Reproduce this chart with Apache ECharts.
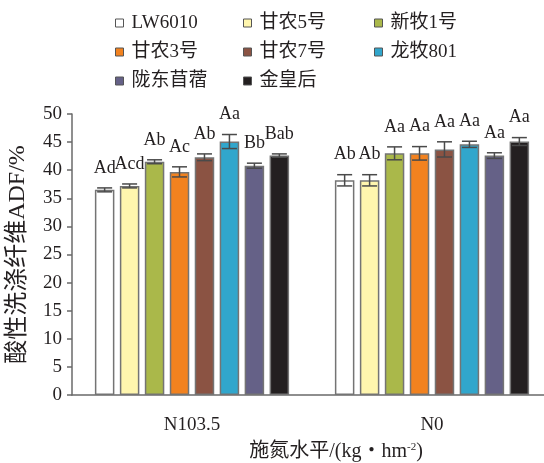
<!DOCTYPE html>
<html>
<head>
<meta charset="utf-8">
<script src="https://cdn.jsdelivr.net/npm/echarts@6/dist/echarts.min.js"></script>
<style>html,body{margin:0;padding:0;background:#fff}#c{width:544px;height:463px}</style>
</head>
<body>
<div id="c"></div>
<script>
var categories = ['N103.5', 'N0'];
var varieties = ['LW6010', '甘农5号', '新牧1号', '甘农3号', '甘农7号', '龙牧801', '陇东苜蓿', '金皇后'];
var colors = ['#ffffff', '#fff6ae', '#aab84a', '#f2821f', '#8b5343', '#31a6cc', '#656187', '#231f20'];
var valLW6010 = [36.5, 38.2];
var valGannong5 = [37.2, 38.2];
var valXinmu1 = [41.5, 43.0];
var valGannong3 = [39.7, 43.0];
var valGannong7 = [42.3, 43.7];
var valLongmu801 = [45.1, 44.6];
var valLongdong = [40.8, 42.6];
var valJinhuanghou = [42.6, 45.1];
var errLW6010 = [0.35, 1.0];
var errGannong5 = [0.35, 1.0];
var errXinmu1 = [0.35, 1.15];
var errGannong3 = [0.9, 1.2];
var errGannong7 = [0.6, 1.35];
var errLongmu801 = [1.25, 0.55];
var errLongdong = [0.45, 0.5];
var errJinhuanghou = [0.3, 0.7];
var lblLW6010 = ['Ad', 'Ab'];
var lblGannong5 = ['Acd', 'Ab'];
var lblXinmu1 = ['Ab', 'Aa'];
var lblGannong3 = ['Ac', 'Aa'];
var lblGannong7 = ['Ab', 'Aa'];
var lblLongmu801 = ['Aa', 'Aa'];
var lblLongdong = ['Bb', 'Aa'];
var lblJinhuanghou = ['Bab', 'Aa'];
var yTicks = [0, 5, 10, 15, 20, 25, 30, 35, 40, 45, 50];

var values = [valLW6010, valGannong5, valXinmu1, valGannong3, valGannong7, valLongmu801, valLongdong, valJinhuanghou];
var errors = [errLW6010, errGannong5, errXinmu1, errGannong3, errGannong7, errLongmu801, errLongdong, errJinhuanghou];
var letters = [lblLW6010, lblGannong5, lblXinmu1, lblGannong3, lblGannong7, lblLongmu801, lblLongdong, lblJinhuanghou];

var FONT = "'Liberation Serif', 'Noto Sans CJK SC', serif";
var BAR_W = 19.5, BAR_GAP = 0.28;
var PITCH = BAR_W * (1 + BAR_GAP);

var series = [];
varieties.forEach(function (name, i) {
  series.push({
    name: name, type: 'bar', data: values[i],
    barWidth: BAR_W, barGap: (BAR_GAP * 100) + '%',
    itemStyle: { color: colors[i], borderColor: '#747474', borderWidth: 1.5 },
    z: 2
  });
});
var errData = [];
varieties.forEach(function (name, i) {
  categories.forEach(function (c, j) {
    errData.push([j, i, values[i][j], errors[i][j], letters[i][j]]);
  });
});
series.push({
  type: 'custom', z: 5,
  data: errData,
  encode: { x: 0, y: 2 },
  renderItem: function (params, api) {
    var cat = api.value(0), vi = api.value(1), v = api.value(2), e = api.value(3);
    var lbl = errData[params.dataIndex][4];
    var cx = api.coord([cat, v])[0] + (vi - 3.5) * PITCH;
    var yHi = api.coord([cat, v + e])[1];
    var yLo = api.coord([cat, v - e])[1];
    var cap = 7.5;
    var st = { stroke: '#4a4a4a', lineWidth: 1.5 };
    return {
      type: 'group',
      children: [
        { type: 'line', shape: { x1: cx, y1: yHi, x2: cx, y2: yLo }, style: st },
        { type: 'line', shape: { x1: cx - cap, y1: yHi, x2: cx + cap, y2: yHi }, style: st },
        { type: 'line', shape: { x1: cx - cap, y1: yLo, x2: cx + cap, y2: yLo }, style: st },
        { type: 'text', style: { text: lbl, x: cx, y: yHi - 11, align: 'center', verticalAlign: 'bottom',
          font: '18px ' + FONT, fill: '#231f20' } }
      ]
    };
  }
});

function legendCol(items, left) {
  return {
    data: items, orient: 'vertical', left: left, top: 8,
    itemWidth: 8, itemHeight: 8, itemGap: 9,
    icon: 'rect',
    itemStyle: { borderColor: '#555', borderWidth: 1 },
    textStyle: { fontFamily: FONT, fontSize: 19, color: '#231f20', lineHeight: 20, padding: [0, 0, 0, 3] },
    selectedMode: false
  };
}

var option = {
  animation: false,
  backgroundColor: '#fff',
  legend: [
    legendCol(['LW6010', '甘农3号', '陇东苜蓿'], 110),
    legendCol(['甘农5号', '甘农7号', '金皇后'], 238),
    legendCol(['新牧1号', '龙牧801'], 369)
  ],
  grid: { left: 72, right: -8, top: 114, bottom: 68, outerBoundsMode: 'none', containLabel: false },
  xAxis: {
    type: 'category', data: categories,
    axisLine: { lineStyle: { color: '#6a6a6a', width: 1.5 } },
    axisTick: { inside: true, length: 5, lineStyle: { color: '#6a6a6a', width: 1.5 } },
    axisLabel: { fontFamily: FONT, fontSize: 19, color: '#231f20', margin: 21 },
    name: '施氮水平/(kg・hm{sup|-2})',
    nameLocation: 'middle', nameGap: 47,
    nameTextStyle: { fontFamily: FONT, fontSize: 20, color: '#231f20', padding: [0, 0, 0, 48],
      rich: { sup: { fontFamily: FONT, fontSize: 11, verticalAlign: 'top', padding: [0, 0, 9, 0], color: '#231f20' } } }
  },
  yAxis: {
    type: 'value', min: yTicks[0], max: yTicks[yTicks.length - 1], interval: yTicks[1] - yTicks[0],
    splitLine: { show: false },
    axisLine: { show: true, lineStyle: { color: '#6a6a6a', width: 1.5 } },
    axisTick: { show: true, length: 5, lineStyle: { color: '#6a6a6a', width: 1.5 } },
    axisLabel: { fontFamily: FONT, fontSize: 19, color: '#231f20', margin: 10 },
    name: '酸性洗涤纤维ADF/%', nameLocation: 'middle', nameGap: 42,
    nameTextStyle: { fontFamily: FONT, fontSize: 24, color: '#231f20' }
  },
  series: series
};
var chart = echarts.init(document.getElementById('c'), null, { renderer: 'canvas' });
chart.setOption(option);
</script>
</body>
</html>
